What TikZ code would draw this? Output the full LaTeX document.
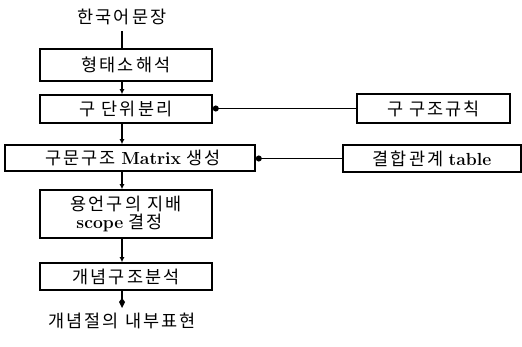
\documentclass[tikz,border=0pt]{standalone}
\usepackage{fontspec}
\usetikzlibrary{arrows.meta}
\newfontfamily\kr{Noto Sans CJK KR}[LetterSpace=12]
\newcommand{\lat}[1]{{\bfseries\addfontfeatures{LetterSpace=2}#1}}
\begin{document}
\begin{tikzpicture}[x=1pt,y=-1pt,
  box/.style={draw, line width=1.6pt, rectangle, inner sep=0pt,
    font=\fontsize{17.5}{20}\selectfont},
  lbl/.style={inner sep=0pt, font=\fontsize{17.5}{20}\selectfont},
  vline/.style={line width=1.5pt},
  conn/.style={line width=1.5pt, -{Latex[length=5pt,width=5pt]}},
  endconn/.style={line width=1.5pt, -{Kite[length=10pt,width=6pt,inset=4pt]}},
  hconn/.style={line width=1.3pt, -{Circle[length=6pt]}}
]
\useasboundingbox (0,0) rectangle (522,347);
\coordinate (ax) at (122,0);
\node[lbl] (title) at (122,17) {\kr 한국어문장};
\node[box, minimum width=172pt, minimum height=32pt] (b1) at (126,65) {\kr 형태소해석};
\node[box, minimum width=172pt, minimum height=28pt] (b2) at (126,109) {\kr 구 단위분리};
\node[box, minimum width=250pt, minimum height=26pt] (b3) at (130,158) {\hspace{6pt}{\kr 구문구조} \lat{Matrix} {\kr 생성}};
\node[box, minimum width=172pt, minimum height=48pt, align=left] (b4) at (126,214) {{\kr 용언구의 지배}\\[-2pt]\hspace{6pt}\lat{scope} {\kr 결정}};
\node[box, minimum width=172pt, minimum height=27pt] (b5) at (126,276.5) {\kr 개념구조분석};
\node[box, minimum width=153pt, minimum height=29pt] (r1) at (433.5,108.5) {\kr 구 구조규칙};
\node[box, minimum width=178pt, minimum height=27pt] (r2) at (432,158.5) {{\kr 결합관계} \lat{table}};
\node[lbl] (fin) at (122,321) {\kr 개념절의 내부표현};
\coordinate (finend) at (122,308);

\draw[vline] (title.south -| ax) ++(0,6) -- (b1.north -| ax);
\draw[conn] (b1.south -| ax) -- (b2.north -| ax);
\draw[conn] (b2.south -| ax) -- (b3.north -| ax);
\draw[conn] (b3.south -| ax) -- (b4.north -| ax);
\draw[conn] (b4.south -| ax) -- (b5.north -| ax);
\draw[endconn] (b5.south -| ax) -- (finend);
\draw[hconn] (r1.west) -- (r1.west -| b2.east);
\draw[hconn] (r2.west) -- (r2.west -| b3.east);
\end{tikzpicture}
\end{document}
